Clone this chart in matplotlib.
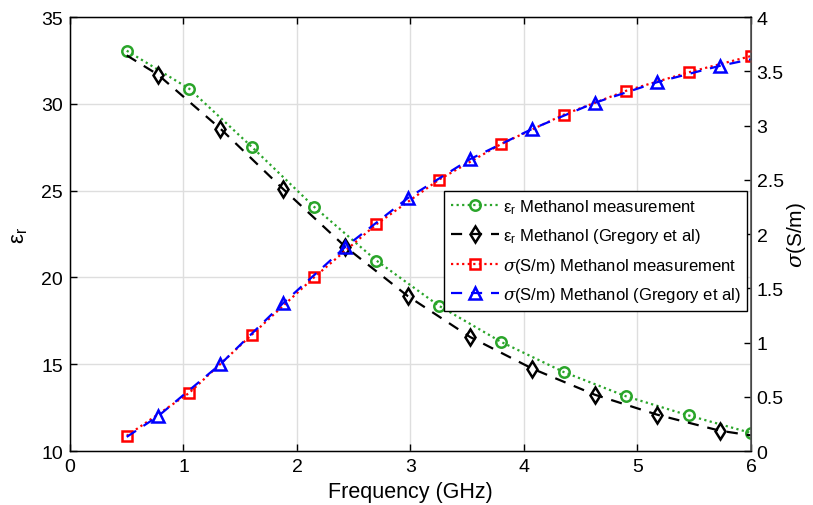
import numpy as np
import matplotlib
matplotlib.use('Agg')
import matplotlib.pyplot as plt
from matplotlib.ticker import FormatStrFormatter

plt.rcParams['font.family'] = ['Liberation Sans', 'DejaVu Sans']
plt.rcParams['mathtext.fontset'] = 'custom'
plt.rcParams['mathtext.rm'] = 'Liberation Sans'
plt.rcParams['mathtext.it'] = 'DejaVu Serif:italic'

# measured samples (every 0.55 GHz)
f_meas = [0.5, 1.05, 1.6, 2.15, 2.7, 3.25, 3.8, 4.35, 4.9, 5.45, 6.0]
eps_meas = [33.06, 30.87, 27.53, 24.07, 20.97, 18.37, 16.28, 14.55, 13.15, 12.05, 11.04]
sig_meas = [0.14, 0.535, 1.07, 1.60, 2.09, 2.50, 2.83, 3.10, 3.32, 3.49, 3.64]

# Gregory et al reference values
f_ref = [0.5, 0.775, 1.325, 1.875, 2.425, 2.975, 3.525, 4.075, 4.625, 5.175, 5.725, 6.0]
eps_ref = [32.79, 31.68, 28.57, 25.11, 21.77, 18.93, 16.57, 14.74, 13.24, 12.09, 11.17, 10.90]
sig_ref = [0.13, 0.32, 0.80, 1.36, 1.88, 2.33, 2.69, 2.97, 3.21, 3.40, 3.55, 3.61]

green = '#2aa52a'
dotted = (0, (1, 1.5))
dashed = (0, (5, 4))

fig = plt.figure(figsize=(8.13, 5.06), dpi=100)
ax = fig.add_axes([0.0861, 0.1067, 0.8376, 0.8577])
ax2 = ax.twinx()

h1, = ax.plot(f_meas, eps_meas, color=green, ls=dotted, lw=1.6, marker='o',
              ms=7.5, mfc='none', mew=1.8)
h2, = ax.plot(f_ref, eps_ref, color='black', ls=dashed, lw=1.6, marker='d',
              ms=8, mfc='none', mew=1.8, markevery=list(range(1, len(f_ref) - 1)))
h3, = ax2.plot(f_meas, sig_meas, color='red', ls=dotted, lw=1.6, marker='s',
               ms=7, mfc='none', mew=1.8)
h4, = ax2.plot(f_ref, sig_ref, color='blue', ls=dashed, lw=1.6, marker='^',
               ms=9, mfc='none', mew=1.8, markevery=list(range(1, len(f_ref) - 1)))

ax.set_xlim(0, 6)
ax.set_ylim(10, 35)
ax2.set_ylim(0, 4)
ax.set_xticks(range(0, 7))
ax.set_yticks([10, 15, 20, 25, 30, 35])
ax2.set_yticks(np.arange(0, 4.01, 0.5))
ax2.yaxis.set_major_formatter(FormatStrFormatter('%g'))

ax.grid(True, color='#dedede', lw=1.0)
ax.set_axisbelow(True)
ax.tick_params(direction='in', top=True, labelsize=14, length=5, width=1, pad=5)
ax2.tick_params(direction='in', labelsize=14, length=5, width=1, colors='black', pad=4)
for s in ['left', 'bottom', 'top']:
    ax.spines[s].set_linewidth(1.0)
ax2.spines['right'].set_color('#555555')
ax2.spines['right'].set_linewidth(1.2)

ax.set_xlabel('Frequency (GHz)', fontsize=15.5, labelpad=4)
ax.set_ylabel('ε$_\\mathrm{r}$', fontsize=16, labelpad=8)
ax2.set_ylabel('$\\sigma$(S/m)', fontsize=15, labelpad=1)

labels = ['ε$_\\mathrm{r}$ Methanol measurement',
          'ε$_\\mathrm{r}$ Methanol (Gregory et al)',
          '$\\sigma$(S/m) Methanol measurement',
          '$\\sigma$(S/m) Methanol (Gregory et al)']
leg = ax2.legend([h1, h2, h3, h4], labels, loc='upper right',
                 bbox_to_anchor=(0.997, 0.604), fontsize=12, numpoints=1,
                 handlelength=2.9, handletextpad=0.2, borderpad=0.4,
                 labelspacing=0.62, borderaxespad=0.1, fancybox=False,
                 framealpha=1, edgecolor='black')
leg.get_frame().set_linewidth(1.0)

fig.savefig('out.png', dpi=100)
